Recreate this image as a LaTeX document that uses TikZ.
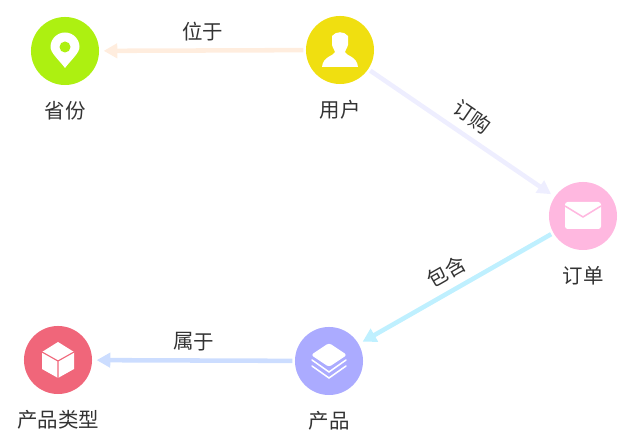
\documentclass[tikz,border=0pt]{standalone}
\usepackage{fontspec}
\setmainfont{Noto Sans CJK SC}
\usetikzlibrary{arrows.meta}
\definecolor{cSheng}{HTML}{ADF011}
\definecolor{cUser}{HTML}{F0DF10}
\definecolor{cOrder}{HTML}{FFB8E0}
\definecolor{cProd}{HTML}{ABABFF}
\definecolor{cType}{HTML}{F0667A}
\definecolor{cText}{HTML}{333333}
\begin{document}
\begin{tikzpicture}[
            x=0.026458cm, y=-0.026458cm,
            font=\fontsize{15.4}{18}\selectfont,
            text=cText,
            entity/.style={circle, minimum size=1.8cm, inner sep=0pt, outer sep=0pt},
            every label/.style={text=cText},
            label distance=0.3cm,
            link/.style={line width=0.12cm, -{Triangle[length=0.36cm, width=0.38cm]}, shorten >=3.5, shorten <=2},
            rel/.style={midway, sloped, above, inner sep=0.2cm},
            pinicon/.pic={
                \fill[white] (0,17) .. controls (-6,9) and (-14.5,2) .. (-14.5,-4) arc (180:360:14.5) .. controls (14.5,2) and (6,9) .. (0,17) -- cycle;
                \fill[cSheng] (0,-4) circle (5.5);
            },
            usericon/.pic={
                \fill[white] (-8,-14) .. controls (-4,-19) and (4,-19) .. (8,-14) -- (8,-5) .. controls (7,-1) and (5,0) .. (5,2) .. controls (6,6) and (17,6) .. (18,17) -- (-18,17) .. controls (-17,6) and (-6,6) .. (-5,2) .. controls (-5,0) and (-7,-1) .. (-8,-5) -- cycle;
            },
            mailicon/.pic={
                \fill[white, rounded corners=2] (-18,-14) rectangle (18,13);
                \draw[cOrder, line width=0.04cm] (-18,-10) -- (0,1) -- (18,-10);
            },
            layericon/.pic={
                \fill[white, rounded corners=2] (0,-18) -- (18,-6) -- (0,6) -- (-18,-6) -- cycle;
                \draw[white, line width=0.04cm, line cap=round] (-17,-1) -- (0,11) -- (17,-1);
                \draw[white, line width=0.04cm, line cap=round] (-17,5) -- (0,17) -- (17,5);
            },
            cubeicon/.pic={
                \fill[white] (0,-18) -- (16,-8) -- (16,9) -- (0,18) -- (-16,9) -- (-16,-8) -- cycle;
                \draw[cType, line width=0.03cm] (-16,-8) -- (0,1) -- (16,-8) (0,1) -- (0,18);
            }
        ]

        \useasboundingbox (0, 0) rectangle (622, 447);

        \node [entity, fill=cSheng, label=below:{省份}] (SF) at (65, 51) {};
        \node [entity, fill=cUser, label=below:{用户}] (YH) at (340, 50) {};
        \node [entity, fill=cOrder, label=below:{订单}] (DD) at (583, 216) {};
        \node [entity, fill=cProd, label=below:{产品}] (CP) at (329, 361) {};
        \node [entity, fill=cType, label=below:{产品类型}] (LX) at (58, 360) {};

        \pic at (SF.center) {pinicon};
        \pic at (YH.center) {usericon};
        \pic at (DD.center) {mailicon};
        \pic at (CP.center) {layericon};
        \pic at (LX.center) {cubeicon};

        \draw [link, color={rgb,255:red,255;green,237;blue,222}] (YH) -- node [rel, text=cText] {位于} (SF);
        \draw [link, color={rgb,255:red,238;green,238;blue,255}] (YH) -- node [rel, text=cText] {订购} (DD);
        \draw [link, color={rgb,255:red,191;green,240;blue,255}] (DD) -- node [rel, text=cText] {包含} (CP);
        \draw [link, color={rgb,255:red,204;green,221;blue,255}] (CP) -- node [rel, text=cText] {属于} (LX);

        \end{tikzpicture}
\end{document}
